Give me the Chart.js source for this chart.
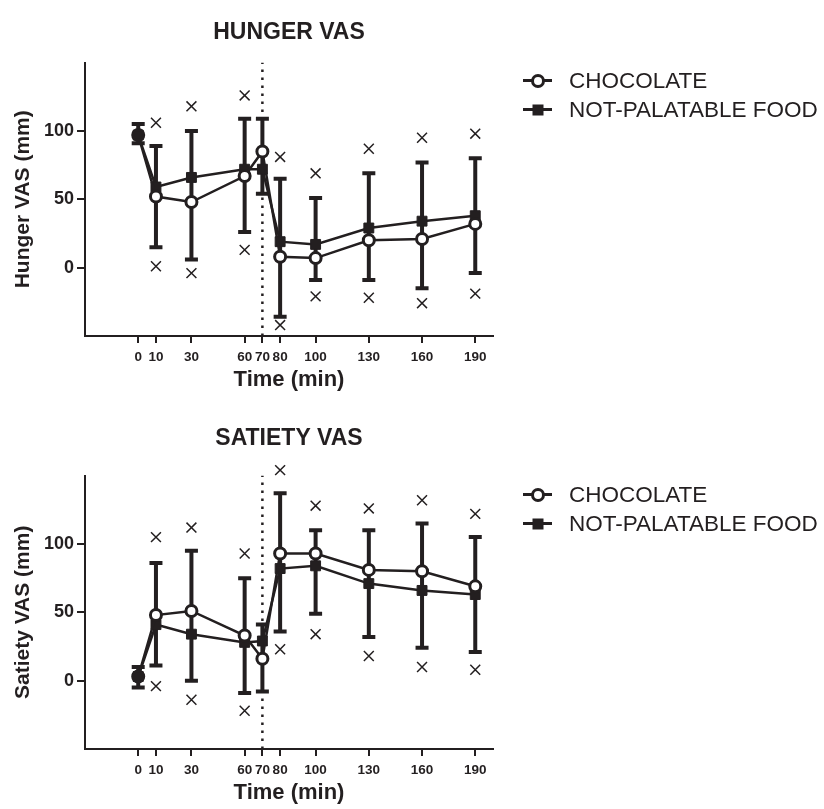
<!DOCTYPE html>
<html>
<head>
<meta charset="utf-8">
<script src="https://cdn.jsdelivr.net/npm/chart.js@4.4.1/dist/chart.umd.min.js"></script>
<style>
  html, body { margin: 0; padding: 0; background: #fff; }
  body { width: 824px; height: 809px; position: relative; overflow: hidden;
         font-family: "Liberation Sans", Arial, sans-serif; color: #231f20; }
  .panel { position: absolute; left: 0; }
  .legend { position: absolute; left: 523px; }
  .row { height: 29px; line-height: 29px; font-size: 22.5px; white-space: nowrap; }
  .sym { display: inline-block; position: relative; width: 29px; height: 29px; vertical-align: top; margin-right: 17px; }
  .sym::before { content: ''; position: absolute; left: 0; right: 0; top: 13px; height: 3px; background: #231f20; }
  .sym i { position: absolute; left: 50%; top: 50%; box-sizing: border-box; transform: translate(-50%, -50%); }
  .sym .circle { width: 14px; height: 14px; border: 3px solid #231f20; border-radius: 50%; background: #fff; }
  .sym .square { width: 11px; height: 11px; background: #231f20; }
</style>
</head>
<body>
<div class="panel" style="top:0"><canvas id="hunger" width="824" height="396"></canvas></div>
<div class="legend" id="legendHunger" style="top:66px"></div>
<div class="panel" style="top:406px"><canvas id="satiety" width="824" height="403"></canvas></div>
<div class="legend" id="legendSatiety" style="top:480px"></div>

<script>
const INK = '#231f20';

const times = [0, 10, 30, 60, 70, 80, 100, 130, 160, 190];
const xTicks = [0, 10, 30, 60, 70, 80, 100, 130, 160, 190];
const yTicks = [0, 50, 100];
const seriesNames = ['CHOCOLATE', 'NOT-PALATABLE FOOD'];
const mealTime = 70;

// hunger VAS (mm)
const hungerChoc = [97, 52, 48, 67, 85, 8, 7, 20, 21, 32];
const hungerNpf = [97, 59, 66, 72, 72, 19, 17, 29, 34, 38];
const hungerErrHigh = [105, 89, 100, 109, 109, 65, 51, 69, 77, 80];
const hungerErrLow = [91, 15, 6, 26, 54, -36, -9, -9, -15, -4];
const hungerCrossHigh = [null, 106, 118, 126, null, 81, 69, 87, 95, 98];
const hungerCrossLow = [null, 1, -4, 13, null, -42, -21, -22, -26, -19];

// satiety VAS (mm)
const satietyChoc = [3, 48, 51, 33, 16, 93, 93, 81, 80, 69];
const satietyNpf = [3, 41, 34, 28, 29, 82, 84, 71, 66, 63];
const satietyErrHigh = [10, 86, 95, 75, 41, 137, 110, 110, 115, 105];
const satietyErrLow = [-5, 11, 0, -9, -8, 36, 49, 32, 24, 21];
const satietyCrossHigh = [null, 105, 112, 93, null, 154, 128, 126, 132, 122];
const satietyCrossLow = [null, -4, -14, -22, null, 23, 34, 18, 10, 8];

const FONT = '"Liberation Sans", Arial, sans-serif';
Chart.defaults.font.family = FONT;
Chart.defaults.color = INK;

function toPoints(values) {
  return values.map((v, i) => ({ x: times[i], y: v })).filter(p => p.y !== null);
}

function makeErrorBars(low, high) {
  return {
    id: 'errorBars',
    beforeDatasetsDraw(chart) {
      const { ctx, scales: { x, y } } = chart;
      ctx.save();
      ctx.strokeStyle = INK;
      ctx.lineWidth = 4;
      low.forEach((lo, i) => {
        const px = x.getPixelForValue(times[i]);
        const yl = y.getPixelForValue(lo);
        const yh = y.getPixelForValue(high[i]);
        ctx.beginPath();
        ctx.moveTo(px, yl); ctx.lineTo(px, yh);
        ctx.moveTo(px - 6.5, yl); ctx.lineTo(px + 6.5, yl);
        ctx.moveTo(px - 6.5, yh); ctx.lineTo(px + 6.5, yh);
        ctx.stroke();
      });
      ctx.restore();
    }
  };
}

function makeChart(id, cfg) {
  const ctx = document.getElementById(id);
  const crosses = toPoints(cfg.crossHigh).concat(toPoints(cfg.crossLow));

  return new Chart(ctx, {
    type: 'scatter',
    data: {
      datasets: [{
        label: seriesNames[0],
        data: toPoints(cfg.choc),
        showLine: true,
        borderColor: INK,
        borderWidth: 2.5,
        pointStyle: 'circle',
        pointRadius: 5.5,
        pointBorderWidth: 3,
        pointBorderColor: INK,
        pointBackgroundColor: times.map(t => t === 0 ? INK : '#fff'),
        order: 1
      }, {
        label: seriesNames[1],
        data: toPoints(cfg.npf),
        showLine: true,
        borderColor: INK,
        borderWidth: 2.5,
        pointStyle: 'rect',
        pointRadius: 7,
        pointBorderWidth: 1,
        pointBorderColor: INK,
        pointBackgroundColor: INK,
        order: 2
      }, {
        label: 'range',
        data: crosses,
        showLine: false,
        pointStyle: 'crossRot',
        pointRadius: 7,
        pointBorderWidth: 1.5,
        pointBorderColor: INK,
        clip: false,
        order: 3
      }, {
        label: 'meal',
        data: [{ x: mealTime, y: -50 }, { x: mealTime, y: 150 }],
        showLine: true,
        borderColor: INK,
        borderWidth: 2.5,
        borderDash: [2.5, 5.5],
        pointRadius: 0,
        order: 4
      }]
    },
    options: {
      responsive: false,
      animation: false,
      layout: { padding: { left: 0, right: 331, top: 0, bottom: 0 } },
      plugins: {
        legend: { display: false },
        tooltip: { enabled: false },
        title: {
          display: true,
          text: cfg.title,
          fullSize: false,
          color: INK,
          font: { size: 23, weight: 'bold' },
          padding: { top: 19, bottom: cfg.titleGap }
        }
      },
      scales: {
        x: {
          type: 'linear',
          min: -30,
          max: 200,
          afterBuildTicks: s => { s.ticks = xTicks.map(v => ({ value: v })); },
          afterFit: s => { s.height = 60; },
          grid: { drawOnChartArea: false, drawTicks: true, tickLength: 7, color: INK, lineWidth: 2 },
          border: { display: true, color: INK, width: 2 },
          ticks: { autoSkip: false, maxRotation: 0, padding: 6, color: INK, font: { size: 13.5, weight: 'bold' } },
          title: { display: true, text: 'Time (min)', color: INK, font: { size: 22, weight: 'bold' }, padding: { top: 0, bottom: 3 } }
        },
        y: {
          min: -50,
          max: 150,
          afterBuildTicks: s => { s.ticks = yTicks.map(v => ({ value: v })); },
          afterFit: s => { s.width = 85; },
          grid: { drawOnChartArea: false, drawTicks: true, tickLength: 8, color: INK, lineWidth: 2 },
          border: { display: true, color: INK, width: 2 },
          ticks: { padding: 3, color: INK, font: { size: 18, weight: 'bold' } },
          title: { display: true, text: cfg.yLabel, color: INK, font: { size: 21, weight: 'bold' }, padding: { top: 11, bottom: 0 } }
        }
      }
    },
    plugins: [makeErrorBars(cfg.errLow, cfg.errHigh)]
  });
}

function buildLegend(id) {
  const el = document.getElementById(id);
  const shapes = ['circle', 'square'];
  el.innerHTML = seriesNames.map((name, i) =>
    `<div class="row"><span class="sym"><i class="${shapes[i]}"></i></span>${name}</div>`
  ).join('');
}

makeChart('hunger', {
  title: 'HUNGER VAS',
  yLabel: 'Hunger VAS (mm)',
  titleGap: 16,
  choc: hungerChoc,
  npf: hungerNpf,
  errLow: hungerErrLow,
  errHigh: hungerErrHigh,
  crossHigh: hungerCrossHigh,
  crossLow: hungerCrossLow
});

makeChart('satiety', {
  title: 'SATIETY VAS',
  yLabel: 'Satiety VAS (mm)',
  titleGap: 23,
  choc: satietyChoc,
  npf: satietyNpf,
  errLow: satietyErrLow,
  errHigh: satietyErrHigh,
  crossHigh: satietyCrossHigh,
  crossLow: satietyCrossLow
});

buildLegend('legendHunger');
buildLegend('legendSatiety');
</script>
</body>
</html>
